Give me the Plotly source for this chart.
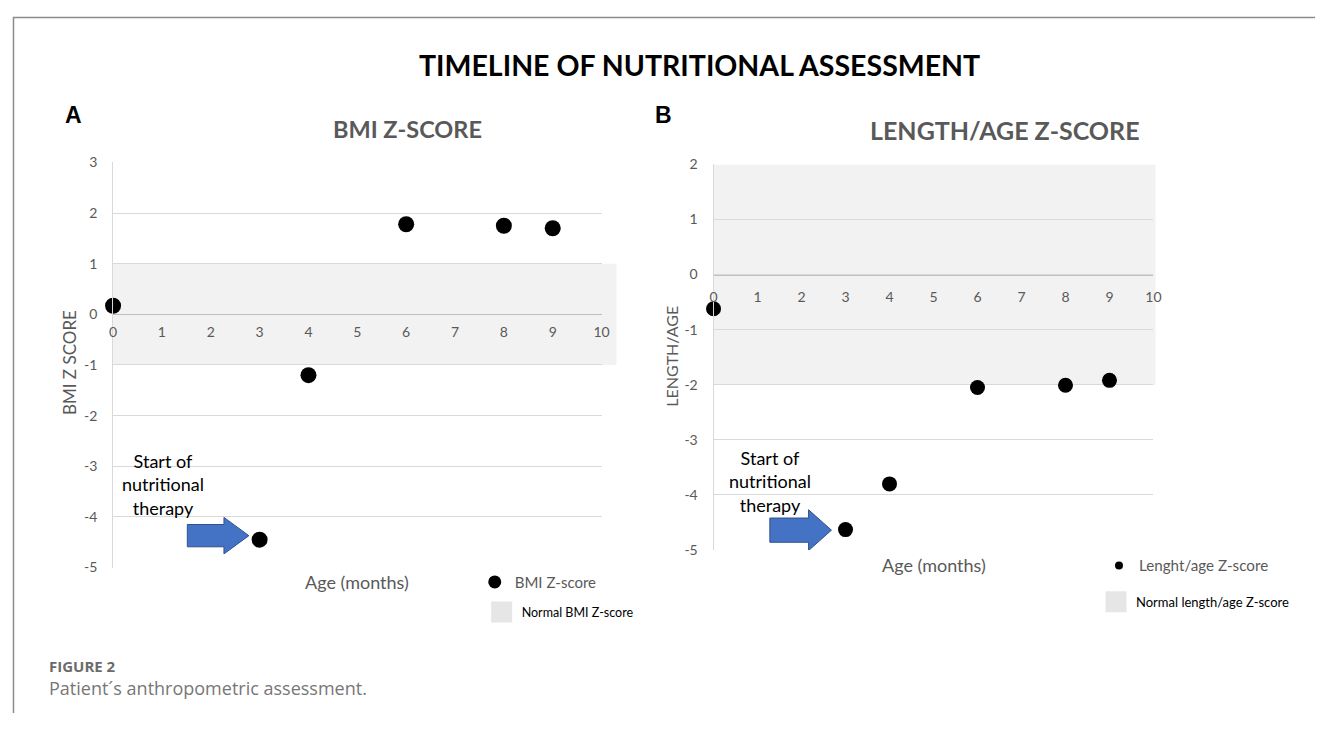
import plotly.graph_objects as go

# ---------------- data ----------------
age_months = [0, 3, 4, 6, 8, 9]
bmi_z = [0.17, -4.45, -1.2, 1.78, 1.75, 1.7]
length_age_z = [-0.62, -4.63, -3.8, -2.05, -2.01, -1.92]
normal_bmi = [-1, 1]
normal_length = [-2, 2]
x_ticks = [0, 1, 2, 3, 4, 5, 6, 7, 8, 9, 10]
bmi_y_ticks = [3, 2, 1, 0, -1, -2, -3, -4, -5]
len_y_ticks = [2, 1, 0, -1, -2, -3, -4, -5]
therapy_start = 3  # month

# page is 1331x729; the html body keeps an 8px margin
W, H = 1331, 729
M = 8
FW, FH = W - 2 * M, H - 2 * M

def px(x):
    return (x - M) / FW

def py(y):
    return 1 - (y - M) / FH

FONT = "Lato"
GRAY = "#595959"
GRID = "#d9d9d9"
BAND = "#f2f2f2"

L_xd = [px(110), px(603)]
L_yd = [py(572), py(157)]
R_xd = [px(716), px(1160)]
R_yd = [py(554), py(159)]
L_yr = [min(bmi_y_ticks), max(bmi_y_ticks)]
R_yr = [min(len_y_ticks), max(len_y_ticks)]

def zero_pos(yd, yr):
    return yd[0] + (0 - yr[0]) / (yr[1] - yr[0]) * (yd[1] - yd[0])

fig = go.Figure()

fig.add_trace(go.Scatter(
    x=age_months, y=bmi_z, mode="markers", name="BMI Z-score",
    marker=dict(color="black", size=16), cliponaxis=False,
    xaxis="x", yaxis="y", showlegend=False))
fig.add_trace(go.Scatter(
    x=[None], y=[None], mode="markers", name="BMI Z-score",
    marker=dict(color="black", size=13), xaxis="x", yaxis="y",
    legend="legend"))
fig.add_trace(go.Scatter(
    x=[None], y=[None], mode="markers", name="Normal BMI Z-score",
    marker=dict(color="#e6e6e6", size=16, symbol="square",
                line=dict(color="#e6e6e6", width=5)),
    xaxis="x", yaxis="y", legend="legend2"))

fig.add_trace(go.Scatter(
    x=age_months, y=length_age_z, mode="markers", name="Lenght/age Z-score",
    marker=dict(color="black", size=15), cliponaxis=False,
    xaxis="x2", yaxis="y2", showlegend=False))
fig.add_trace(go.Scatter(
    x=[None], y=[None], mode="markers", name="Lenght/age Z-score",
    marker=dict(color="black", size=8), xaxis="x2", yaxis="y2",
    legend="legend3"))
fig.add_trace(go.Scatter(
    x=[None], y=[None], mode="markers", name="Normal length/age Z-score",
    marker=dict(color="#e6e6e6", size=16, symbol="square",
                line=dict(color="#e6e6e6", width=5)),
    xaxis="x2", yaxis="y2", legend="legend4"))

# normal-range bands
fig.add_shape(type="rect", xref="paper", yref="y",
              x0=L_xd[0], x1=px(618), y0=normal_bmi[0], y1=normal_bmi[1],
              fillcolor=BAND, line_width=0, layer="below")
fig.add_shape(type="rect", xref="paper", yref="y2",
              x0=R_xd[0], x1=px(1162), y0=normal_length[0], y1=normal_length[1],
              fillcolor=BAND, line_width=0, layer="below")

# block arrows pointing at the start of therapy
def block_arrow(xr, yr, px0, tail, neck, tip, ymid, shaft, head):
    x_t, x_n, x_p = px0 + tail, px0 + neck, px0 + tip
    path = (f"M{x_t},{ymid + shaft} L{x_n},{ymid + shaft} L{x_n},{ymid + head} "
            f"L{x_p},{ymid} L{x_n},{ymid - head} L{x_n},{ymid - shaft} "
            f"L{x_t},{ymid - shaft} Z")
    fig.add_shape(type="path", path=path, xref=xr, yref=yr,
                  fillcolor="#4472C4", line=dict(color="#2F528F", width=1))

i0 = age_months.index(therapy_start)
block_arrow("x", "y", therapy_start, -1.48, -0.73, -0.22, bmi_z[i0] + 0.08, 0.22, 0.36)
block_arrow("x2", "y2", therapy_start, -1.72, -0.84, -0.32, length_age_z[i0] - 0.01, 0.22, 0.37)

tick_font = dict(family=FONT, size=14, color=GRAY)
common_x = dict(range=[0, 10], tickvals=x_ticks, ticktext=[str(v) for v in x_ticks],
                showgrid=False, zeroline=False,
                showline=True, linecolor="#bfbfbf", linewidth=1,
                ticks="outside", tickcolor="rgba(0,0,0,0)",
                tickfont=tick_font, anchor="free")
common_y = dict(showgrid=True, gridcolor=GRID, gridwidth=1, zeroline=False,
                showline=True, linecolor=GRID, linewidth=1,
                ticks="outside", ticklen=12, tickcolor="rgba(0,0,0,0)",
                tickfont=tick_font)

legend_common = dict(xanchor="left", yanchor="middle", bgcolor="rgba(0,0,0,0)",
                     borderwidth=0)

fig.update_layout(
    width=FW, height=FH, margin=dict(l=0, r=0, t=0, b=0),
    paper_bgcolor="white", plot_bgcolor="rgba(0,0,0,0)",
    xaxis=dict(domain=L_xd, position=zero_pos(L_yd, L_yr), ticklen=5, **common_x),
    yaxis=dict(domain=L_yd, range=L_yr, tickvals=bmi_y_ticks,
               ticktext=[str(v) for v in bmi_y_ticks], anchor="x", **common_y),
    xaxis2=dict(domain=R_xd, position=zero_pos(R_yd, R_yr), ticklen=10, **common_x),
    yaxis2=dict(domain=R_yd, range=R_yr, tickvals=len_y_ticks,
                ticktext=[str(v) for v in len_y_ticks], anchor="x2", **common_y),
    legend=dict(x=px(475), y=py(587), font=dict(family=FONT, size=15, color=GRAY),
                **legend_common),
    legend2=dict(x=px(482), y=py(618), font=dict(family=FONT, size=12.5, color="black"),
                 **legend_common),
    legend3=dict(x=px(1105), y=py(570), font=dict(family=FONT, size=15.2, color=GRAY),
                 **legend_common),
    legend4=dict(x=px(1102), y=py(607), font=dict(family=FONT, size=13, color="black"),
                 **legend_common),
)

def ann(text, x, y, size, color="black", bold=False, xanchor="center", angle=0, family=FONT):
    fig.add_annotation(text=f"<b>{text}</b>" if bold else text,
                       x=px(x), y=py(y), xref="paper", yref="paper",
                       xanchor=xanchor, yanchor="middle", showarrow=False,
                       textangle=angle, font=dict(family=family, size=size, color=color))

ann("TIMELINE OF NUTRITIONAL ASSESSMENT", 702, 57, 28.5, bold=True)
ann("A", 70, 108, 23, bold=True, family="Liberation Sans")
ann("B", 665, 108, 23, bold=True, family="Liberation Sans")
ann("BMI Z-SCORE", 407, 123, 23.5, color=GRAY, bold=True)
ann("LENGTH/AGE Z-SCORE", 1010, 124, 25, color=GRAY, bold=True)
ann("BMI Z SCORE", 66, 362, 17, color=GRAY, angle=-90)
ann("LENGTH/AGE", 674, 355, 16, color=GRAY, angle=-90)
ann("Age (months)", 356, 587, 18, color=GRAY)
ann("Age (months)", 938, 569, 18, color=GRAY)
fig.add_annotation(text="Start of<br>nutritional<br>therapy", x=px(160), y=py(487),
                   xref="paper", yref="paper", showarrow=False, xanchor="center", yanchor="middle",
                   font=dict(family=FONT, size=18, color="black"))
fig.add_annotation(text="Start of<br>nutritional<br>therapy", x=px(773), y=py(484),
                   xref="paper", yref="paper", showarrow=False, xanchor="center", yanchor="middle",
                   font=dict(family=FONT, size=18, color="black"))
ann("FIGURE 2", 43, 673, 15, color="#6b6b6b", xanchor="left", bold=True, family="Open Sans")
ann("Patient\u00b4s anthropometric assessment.", 43, 695, 18, color="#777777",
    xanchor="left", family="Open Sans")

# frame lines
fig.add_shape(type="line", xref="paper", yref="paper", x0=px(9), x1=1, y0=py(8.5), y1=py(8.5),
              line=dict(color="#8c8c8c", width=1.5))
fig.add_shape(type="line", xref="paper", yref="paper", x0=px(9.5), x1=px(9.5), y0=py(8), y1=0,
              line=dict(color="#8c8c8c", width=1.5))

fig.write_html("out.html")
